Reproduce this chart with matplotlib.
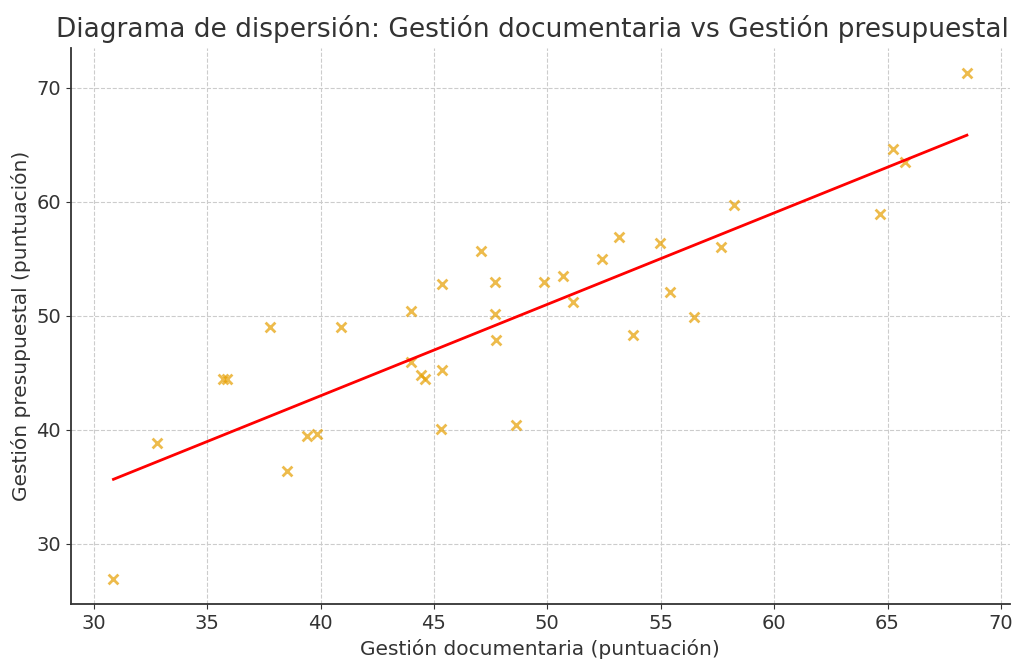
import matplotlib
matplotlib.use('Agg')
import matplotlib.pyplot as plt
import numpy as np

# puntuaciones
gestion_documentaria = [
    30.87, 32.77, 35.71, 35.88, 37.79, 38.51, 39.41, 39.85, 40.91, 43.97,
    43.97, 44.41, 44.59, 45.35, 45.37, 45.29, 47.09, 47.68, 47.68, 47.75,
    48.63, 49.85, 50.69, 51.13, 52.43, 53.16, 53.78, 54.97, 55.41, 56.47,
    57.67, 58.23, 64.66, 65.22, 65.77, 68.50,
]
gestion_presupuestal = [
    26.90, 38.84, 44.48, 44.42, 48.98, 36.34, 39.45, 39.63, 48.98, 50.44,
    45.93, 44.77, 44.45, 52.76, 45.20, 40.03, 55.67, 52.99, 50.15, 47.91,
    40.41, 52.96, 53.49, 51.22, 54.94, 56.91, 48.34, 56.34, 52.09, 49.85,
    56.04, 59.68, 58.95, 64.62, 63.51, 71.30,
]

title = 'Diagrama de dispersión: Gestión documentaria vs Gestión presupuestal'
xlabel = 'Gestión documentaria (puntuación)'
ylabel = 'Gestión presupuestal (puntuación)'

x = np.array(gestion_documentaria)
y = np.array(gestion_presupuestal)

text_color = '#333333'
plt.rcParams['font.family'] = 'DejaVu Sans'

fig, ax = plt.subplots(figsize=(10.26, 6.59), dpi=100)
fig.subplots_adjust(left=0.069, right=0.984, top=0.9276, bottom=0.083)

ax.scatter(x, y, marker='x', color='#E69F00', alpha=0.7, s=50, linewidths=2, zorder=3)

# recta de regresión
m, b = np.polyfit(x, y, 1)
xs = np.array([x.min(), x.max()])
ax.plot(xs, m * xs + b, color='red', linewidth=2, zorder=4)

ax.set_title(title, fontsize=19, color=text_color, pad=8, x=0.492)
ax.set_xlabel(xlabel, fontsize=14.5, color=text_color)
ax.set_ylabel(ylabel, fontsize=14.5, color=text_color)
ax.set_xticks(np.arange(30, 71, 5))
ax.set_yticks(np.arange(30, 71, 10))
ax.tick_params(labelsize=14, colors=text_color)
ax.grid(True, linestyle='--', color='#cccccc', linewidth=0.8)
ax.set_axisbelow(True)
for side in ['top', 'right']:
    ax.spines[side].set_visible(False)
for side in ['left', 'bottom']:
    ax.spines[side].set_color(text_color)
    ax.spines[side].set_linewidth(1.3)

plt.savefig('out.png', dpi=100)
